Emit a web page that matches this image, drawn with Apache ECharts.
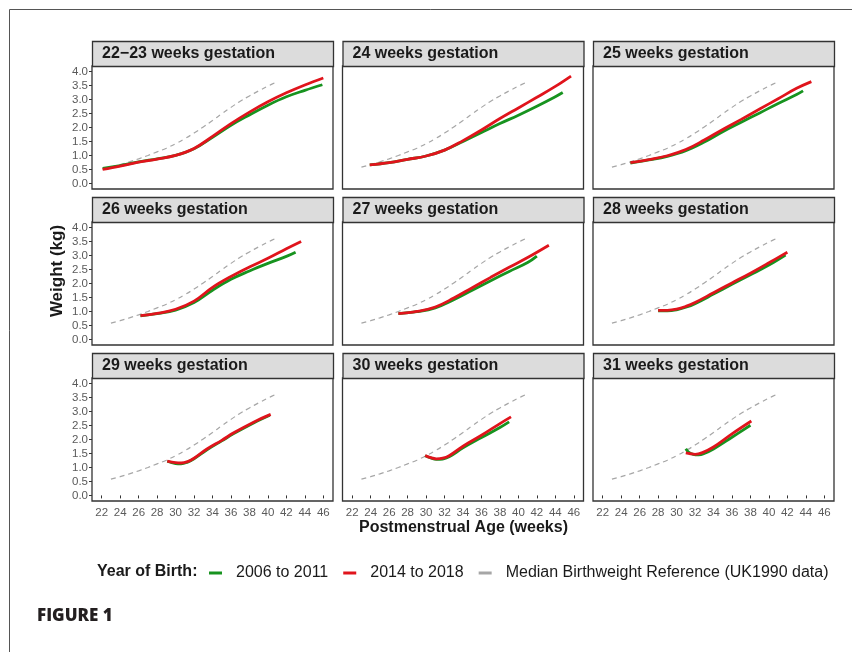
<!DOCTYPE html>
<html>
<head>
<meta charset="utf-8">
<script src="https://cdn.jsdelivr.net/npm/echarts@6/dist/echarts.min.js"></script>
<style>
html,body{margin:0;padding:0;background:#fff;}
#chart{width:852px;height:652px;}
</style>
</head>
<body>
<div id="chart"></div>
<script>
// ---------- data ----------
const panelTitles = ['22\u221223 weeks gestation','24 weeks gestation','25 weeks gestation',
  '26 weeks gestation','27 weeks gestation','28 weeks gestation',
  '29 weeks gestation','30 weeks gestation','31 weeks gestation'];
const xTicks = [22,24,26,28,30,32,34,36,38,40,42,44,46];
const yTicks = [0,0.5,1,1.5,2,2.5,3,3.5,4];
const seriesNames = ['2006 to 2011','2014 to 2018','Median Birthweight Reference (UK1990 data)'];

// median birthweight reference (same in every panel)
const refWeeks = [23,24,25,26,27,28,29,30,31,32,33,34,35,36,37,38,39,40,41];
const refKg    = [0.58,0.67,0.77,0.88,1.00,1.13,1.26,1.42,1.60,1.80,2.02,2.25,2.49,2.72,2.94,3.13,3.31,3.48,3.64];

// 2006 to 2011 cohort, one list per panel
const earlyWeeks = [
  [22.1,24,26,28,30,32,34,36,38,40,42,44,45.9],
  [23.9,26,28,30,32,34,36,38,40,42,44,44.8],
  [25,27,29,31,33,35,37,39,41,43,43.7],
  [26.2,28,30,32,34,36,38,40,42,43],
  [27,29,31,33,35,37,39,41,42],
  [28,29,30,31,32,34,36,38,40,41.8],
  [29.1,30,30.6,31.3,32,33.4,35,36.3,38.5,40.2],
  [29.9,30.5,31.1,31.8,32.5,34,36,38,39],
  [31,31.3,31.8,32.4,33,34,36,38]
];
const earlyKg = [
  [0.54,0.64,0.77,0.88,1.00,1.24,1.65,2.08,2.45,2.80,3.10,3.33,3.53],
  [0.66,0.74,0.86,0.98,1.19,1.50,1.82,2.14,2.44,2.76,3.10,3.25],
  [0.73,0.84,0.97,1.17,1.48,1.85,2.19,2.52,2.86,3.18,3.31],
  [0.84,0.92,1.05,1.32,1.76,2.15,2.45,2.72,2.97,3.12],
  [0.92,0.99,1.13,1.42,1.76,2.10,2.43,2.75,2.98],
  [1.02,1.02,1.06,1.15,1.28,1.62,1.97,2.31,2.66,3.02],
  [1.22,1.14,1.13,1.19,1.31,1.63,1.95,2.21,2.60,2.87],
  [1.42,1.34,1.29,1.30,1.38,1.70,2.07,2.43,2.63],
  [1.67,1.55,1.47,1.45,1.50,1.66,2.08,2.51]
];

// 2014 to 2018 cohort, one list per panel
const lateWeeks = [
  [22.1,24,26,28,30,32,34,36,38,40,42,44,46],
  [23.9,26,28,30,32,34,36,38,40,42,44,45.7],
  [25,27,29,31,33,35,37,39,41,43,44.6],
  [26.2,28,30,32,34,36,38,40,42,43.6],
  [27,29,31,33,35,37,39,41,43.3],
  [28,29,30,31,32,34,36,38,40,42],
  [29.1,30,30.6,31.3,32,33.4,35,36.3,38.5,40.3],
  [29.9,30.5,31.1,31.8,32.5,34,36,38,39.2],
  [31,31.5,32,32.8,34,36,38.1]
];
const lateKg = [
  [0.50,0.62,0.76,0.87,1.00,1.25,1.68,2.14,2.55,2.92,3.24,3.52,3.77],
  [0.66,0.74,0.86,0.98,1.19,1.53,1.91,2.32,2.70,3.08,3.47,3.84],
  [0.74,0.85,0.99,1.21,1.55,1.93,2.29,2.66,3.03,3.40,3.64],
  [0.85,0.93,1.08,1.37,1.86,2.25,2.59,2.90,3.24,3.50],
  [0.92,1.00,1.16,1.48,1.85,2.22,2.58,2.93,3.37],
  [1.04,1.04,1.08,1.18,1.32,1.67,2.02,2.37,2.74,3.12],
  [1.23,1.17,1.16,1.21,1.33,1.66,1.97,2.24,2.63,2.90],
  [1.43,1.35,1.31,1.33,1.42,1.76,2.15,2.57,2.81],
  [1.52,1.49,1.47,1.53,1.73,2.20,2.66]
];

// ---------- layout / style ----------
const colLeft = [92, 342.5, 593];
const rowTop = [66, 222, 378];
const panelW = 241, panelH = 123, stripH = 25;
const GREEN = '#17931f', RED = '#e0141c', GREY = '#a6a6a6';
const FONT = '"Liberation Sans", Arial, sans-serif';

const zip = (xs, ys) => xs.map((x, i) => [x, ys[i]]);

const grids = [], xAxes = [], yAxes = [], series = [], graphics = [];
for (let i = 0; i < 9; i++) {
  const r = Math.floor(i / 3), c = i % 3;
  grids.push({left: colLeft[c], top: rowTop[r], width: panelW, height: panelH,
    show: true, backgroundColor: '#fff', borderColor: '#333', borderWidth: 1.3});
  xAxes.push({type: 'value', gridIndex: i, min: 20.95, max: 47.05,
    axisLine: {show: false},
    axisTick: {show: r === 2, customValues: xTicks, length: 3, lineStyle: {color: '#333'}},
    axisLabel: {show: r === 2, customValues: xTicks, fontSize: 11.5, color: '#5a5a5a', fontFamily: FONT, margin: 6},
    splitLine: {show: false}});
  yAxes.push({type: 'value', gridIndex: i, min: -0.2, max: 4.2,
    axisLine: {show: false},
    axisTick: {show: c === 0, customValues: yTicks, length: 3, lineStyle: {color: '#333'}},
    axisLabel: {show: c === 0, customValues: yTicks, fontSize: 11.5, color: '#5a5a5a', fontFamily: FONT, margin: 4,
      formatter: v => v.toFixed(1)},
    splitLine: {show: false}});
  series.push({name: seriesNames[2], type: 'line', xAxisIndex: i, yAxisIndex: i,
    data: zip(refWeeks, refKg), showSymbol: false, symbol: 'none', smooth: 0.4,
    lineStyle: {color: GREY, width: 1.2, type: [5, 4]}, itemStyle: {color: GREY}, z: 2});
  series.push({name: seriesNames[0], type: 'line', xAxisIndex: i, yAxisIndex: i,
    data: zip(earlyWeeks[i], earlyKg[i]), showSymbol: false, symbol: 'none', smooth: 0.4,
    lineStyle: {color: GREEN, width: 2.8}, itemStyle: {color: GREEN}, z: 3});
  series.push({name: seriesNames[1], type: 'line', xAxisIndex: i, yAxisIndex: i,
    data: zip(lateWeeks[i], lateKg[i]), showSymbol: false, symbol: 'none', smooth: 0.4,
    lineStyle: {color: RED, width: 2.8}, itemStyle: {color: RED}, z: 4});
  graphics.push({type: 'rect', shape: {x: colLeft[c] + 0.5, y: rowTop[r] - stripH + 0.5, width: panelW, height: stripH},
    style: {fill: '#dcdcdc', stroke: '#333', lineWidth: 1.3}, z: 10});
  graphics.push({type: 'text', x: colLeft[c] + 10, y: rowTop[r] - stripH / 2 + 0.5,
    style: {text: panelTitles[i], font: 'bold 16px ' + FONT, fill: '#1a1a1a', verticalAlign: 'middle'}, z: 11});
}

// frame lines, axis titles, legend title, caption
graphics.push({type: 'line', shape: {x1: 9.5, y1: 9.5, x2: 852, y2: 9.5}, style: {stroke: '#555', lineWidth: 1}});
graphics.push({type: 'line', shape: {x1: 9.5, y1: 9.5, x2: 9.5, y2: 652}, style: {stroke: '#555', lineWidth: 1}});
graphics.push({type: 'text', x: 57, y: 271, rotation: Math.PI / 2,
  style: {text: 'Weight (kg)', font: 'bold 17px ' + FONT, fill: '#1a1a1a', align: 'center', verticalAlign: 'middle'}});
graphics.push({type: 'text', x: 463.5, y: 528,
  style: {text: 'Postmenstrual Age (weeks)', font: 'bold 16px ' + FONT, fill: '#1a1a1a', align: 'center', verticalAlign: 'middle'}});
graphics.push({type: 'text', x: 97, y: 572,
  style: {text: 'Year of Birth:', font: 'bold 16px ' + FONT, fill: '#1a1a1a', verticalAlign: 'middle'}});
graphics.push({type: 'text', x: 37, y: 616,
  style: {text: 'FIGURE 1', font: '800 17px "Open Sans", sans-serif', fill: '#231f20', verticalAlign: 'middle'}});

const chart = echarts.init(document.getElementById('chart'), null, {renderer: 'canvas'});
chart.setOption({
  animation: false,
  backgroundColor: '#fff',
  grid: grids,
  xAxis: xAxes,
  yAxis: yAxes,
  series: series,
  legend: {
    data: seriesNames, left: 204, top: 560, icon: 'rect', itemWidth: 13, itemHeight: 3,
    itemGap: 15, selectedMode: false,
    textStyle: {fontSize: 16, color: '#1a1a1a', fontFamily: FONT, padding: [0, 0, 0, 9]}
  },
  graphic: graphics
});
</script>
</body>
</html>
